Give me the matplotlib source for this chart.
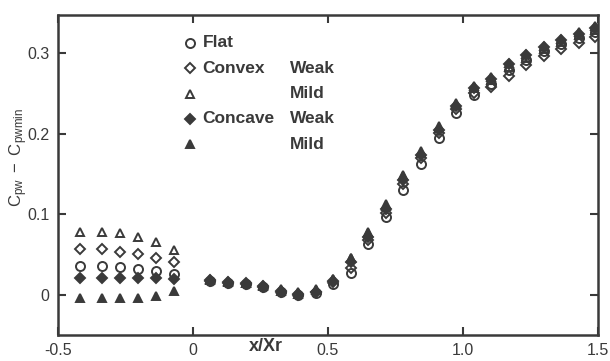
import matplotlib
matplotlib.use("Agg")
import matplotlib.pyplot as plt

plt.rcParams["font.family"] = ["Liberation Sans", "DejaVu Sans"]
plt.rcParams["mathtext.fontset"] = "custom"
plt.rcParams["mathtext.rm"] = "Liberation Sans"
plt.rcParams["mathtext.it"] = "Liberation Sans"

INK = "#3a3a3a"

# upstream stations (x/Xr < 0)
x_up = [-0.42, -0.335, -0.27, -0.205, -0.137, -0.07]
flat_up = [0.036, 0.036, 0.035, 0.032, 0.029, 0.026]
convex_weak_up = [0.057, 0.057, 0.053, 0.051, 0.046, 0.040]
convex_mild_up = [0.078, 0.078, 0.077, 0.072, 0.066, 0.055]
concave_weak_up = [0.021, 0.021, 0.021, 0.021, 0.021, 0.020]
concave_mild_up = [-0.004, -0.004, -0.004, -0.004, -0.001, 0.005]

# downstream stations
x_dn = [0.065, 0.13, 0.195, 0.26, 0.325, 0.39, 0.455, 0.52, 0.585, 0.65, 0.715,
        0.78, 0.845, 0.91, 0.975, 1.04, 1.105, 1.17, 1.235, 1.30, 1.365, 1.43, 1.49]
flat_dn = [0.017, 0.015, 0.013, 0.010, 0.004, 0.000, 0.002, 0.013, 0.027, 0.063, 0.096,
           0.130, 0.162, 0.195, 0.226, 0.248, 0.262, 0.279, 0.291, 0.302, 0.311, 0.319, 0.326]
convex_weak_dn = [0.018, 0.016, 0.014, 0.011, 0.005, 0.001, 0.004, 0.017, 0.033, 0.068, 0.102,
                  0.137, 0.170, 0.201, 0.231, 0.250, 0.258, 0.272, 0.285, 0.296, 0.305, 0.312, 0.320]
convex_mild_dn = [0.019, 0.017, 0.015, 0.012, 0.007, 0.003, 0.007, 0.020, 0.045, 0.076, 0.110,
                  0.147, 0.176, 0.207, 0.236, 0.256, 0.266, 0.283, 0.294, 0.305, 0.314, 0.322, 0.329]
concave_weak_dn = [0.017, 0.015, 0.013, 0.010, 0.004, 0.000, 0.004, 0.016, 0.040, 0.072, 0.106,
                   0.142, 0.173, 0.205, 0.234, 0.257, 0.268, 0.286, 0.297, 0.307, 0.316, 0.324, 0.331]
concave_mild_dn = [0.018, 0.016, 0.014, 0.011, 0.005, 0.001, 0.006, 0.019, 0.046, 0.078, 0.112,
                   0.149, 0.179, 0.209, 0.238, 0.259, 0.270, 0.288, 0.299, 0.309, 0.318, 0.326, 0.333]

x_ticks = [-0.5, 0, 0.5, 1.0, 1.5]
x_tick_labels = ["-0.5", "0", "0.5", "1.0", "1.5"]
y_ticks = [0, 0.1, 0.2, 0.3]
y_tick_labels = ["0", "0.1", "0.2", "0.3"]

series = [
    # label1, label2, marker, filled, upstream, downstream, size
    ("Concave", "Weak", "D", True, concave_weak_up, concave_weak_dn, 5.5),
    ("", "Mild", "^", True, concave_mild_up, concave_mild_dn, 6),
    ("Flat", "", "o", False, flat_up, flat_dn, 6.5),
    ("Convex", "Weak", "D", False, convex_weak_up, convex_weak_dn, 5.5),
    ("", "Mild", "^", False, convex_mild_up, convex_mild_dn, 6),
]

fig = plt.figure(figsize=(6.1, 3.61), dpi=100)
ax = fig.add_axes([0.095, 0.072, 0.885, 0.886])

for lab1, lab2, mk, filled, up, dn, ms in series:
    style = dict(linestyle="none", marker=mk, markersize=ms, markeredgewidth=1.4,
                 markeredgecolor=INK, markerfacecolor=INK if filled else "none")
    ax.plot(x_up, up, **style)
    ax.plot(x_dn, dn, **style)

ax.set_xlim(-0.5, 1.5)
ax.set_ylim(-0.05, 0.347)
ax.set_xticks(x_ticks)
ax.set_xticklabels(x_tick_labels)
ax.set_yticks(y_ticks)
ax.set_yticklabels(y_tick_labels)
ax.tick_params(direction="in", length=6, width=1.5, color=INK, labelcolor=INK,
               labelsize=11.5, top=True, right=True, pad=6)
ax.tick_params(axis="x", labeltop=False)
for sp in ax.spines.values():
    sp.set_linewidth(1.8)
    sp.set_color(INK)

ax.set_ylabel(r"$\mathrm{C_{pw}\ -\ C_{pwmin}}$", fontsize=12, color=INK)
ax.yaxis.set_label_coords(-0.052, 0.555)
ax.text(0.27, -0.01, "x/Xr", transform=ax.get_xaxis_transform(), ha="center",
        va="top", fontsize=13, color=INK, fontweight="bold")

# hand-laid legend like the original
legend_rows = [
    ("o", False, "Flat", "", 6.5),
    ("D", False, "Convex", "Weak", 5.5),
    ("^", False, "", "Mild", 6),
    ("D", True, "Concave", "Weak", 5.5),
    ("^", True, "", "Mild", 6),
]
for i, (mk, filled, t1, t2, ms) in enumerate(legend_rows):
    yy = 0.913 - i * 0.079
    ax.plot([0.245], [yy], transform=ax.transAxes, linestyle="none", marker=mk,
            markersize=ms, markeredgewidth=1.4, markeredgecolor=INK,
            markerfacecolor=INK if filled else "none", clip_on=False)
    ax.text(0.268, yy, t1, transform=ax.transAxes, va="center", ha="left",
            fontsize=12.5, fontweight="bold", color=INK)
    ax.text(0.43, yy, t2, transform=ax.transAxes, va="center", ha="left",
            fontsize=12.5, fontweight="bold", color=INK)

fig.savefig("out.png", dpi=100)
